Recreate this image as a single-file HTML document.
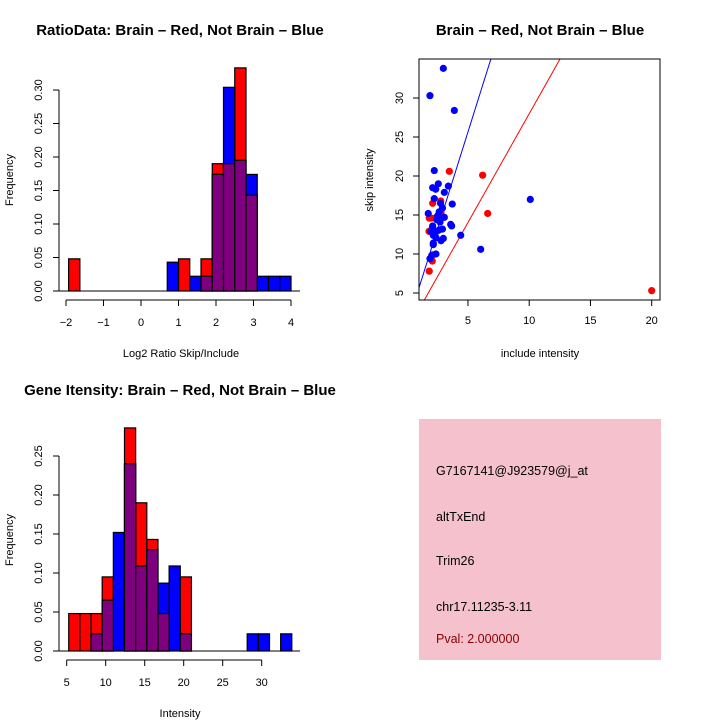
<!DOCTYPE html>
<html><head><meta charset="utf-8">
<style>
html,body{margin:0;padding:0;background:#fff;}
svg{display:block;font-family:"Liberation Sans",sans-serif;}
</style></head>
<body>
<svg id="root" width="720" height="720" viewBox="0 0 720 720">
  <rect x="0" y="0" width="720" height="720" fill="#fff"/>
  <g id="p1"></g>
  <g id="p2"></g>
  <g id="p3"></g>
  <g>
    <rect x="419" y="419" width="242" height="241" fill="#f4c1cc"/>
    <text x="436" y="475" font-size="12.5" fill="#000">G7167141@J923579@j_at</text>
    <text x="436" y="521" font-size="12.5" fill="#000">altTxEnd</text>
    <text x="436" y="565" font-size="12.5" fill="#000">Trim26</text>
    <text x="436" y="611" font-size="12.5" fill="#000">chr17.11235-3.11</text>
    <text x="436" y="643" font-size="12.5" fill="#8b0000">Pval: 2.000000</text>
  </g>
</svg>
<script>
// ---- Plot 1: ratio histogram ----
const ratioBinStarts = [-1.93, 0.7, 1.0, 1.3, 1.6, 1.9, 2.2, 2.5, 2.8, 3.1, 3.4, 3.7];
const ratioBinWidth = 0.3;
const ratioRed  = [0.048, 0, 0.048, 0, 0.048, 0.19, 0.19, 0.333, 0.143, 0, 0, 0];
const ratioBlue = [0, 0.043, 0, 0.022, 0.022, 0.174, 0.304, 0.195, 0.174, 0.022, 0.022, 0.022];
const ratioXTicks = [-2, -1, 0, 1, 2, 3, 4];
const ratioYTicks = ["0.00","0.05","0.10","0.15","0.20","0.25","0.30"];

// ---- Plot 2: scatter ----
const blueInclude = [2.99,1.90,3.89,2.25,2.58,2.12,2.37,3.4,3.07,2.25,10.09,3.72,2.76,2.92,2.65,1.76,3.07,2.45,2.72,3.59,3.67,2.12,2.92,1.96,2.45,2.66,2.17,4.41,2.39,2.99,2.80,2.17,2.17,6.04,2.39,2.04,1.90,2.53];
const blueSkip    = [33.8,30.3,28.4,20.7,19.0,18.5,18.3,18.7,17.9,17.1,17.0,16.4,16.5,15.9,15.4,15.2,14.7,14.4,14.1,13.8,13.6,13.6,13.2,12.9,12.9,13.1,12.4,12.4,12.1,12.0,11.7,11.4,11.2,10.6,10.0,9.8,9.4,14.9];
const redInclude  = [3.48,6.2,6.61,20.0,2.12,2.78,1.84,2.0,1.82,2.1,2.12,2.09,1.84,2.31,2.8];
const redSkip     = [20.6,20.1,15.2,5.3,16.5,16.8,14.6,14.6,12.9,13.4,9.9,9.1,7.8,14.6,15.3];
const blueLine = [0.64, 5.0];   // intercept, slope
const redLine  = [0.08, 2.79];
const scatXTicks = [5, 10, 15, 20];
const scatYTicks = [5, 10, 15, 20, 25, 30];

// ---- Plot 3: gene intensity histogram ----
const geneBinStart = 5.26;
const geneBinWidth = 1.43;
const geneRed  = [0.048,0.048,0.048,0.095,0,0.286,0.19,0.143,0.048,0,0.095,0,0,0,0,0,0,0,0,0];
const geneBlue = [0,0,0.022,0.065,0.152,0.24,0.109,0.13,0.087,0.109,0.022,0,0,0,0,0,0.022,0.022,0,0.022];
const geneXTicks = [5, 10, 15, 20, 25, 30];
const geneYTicks = ["0.00","0.05","0.10","0.15","0.20","0.25"];

const NS = "http://www.w3.org/2000/svg";
function mk(parent, tag, attrs, txt){
  const el = document.createElementNS(NS, tag);
  for (const k in attrs) el.setAttribute(k, attrs[k]);
  if (txt !== undefined) el.textContent = txt;
  parent.appendChild(el);
  return el;
}

function histogram(g, cfg){
  const sx = v => cfg.x0 + (v - cfg.xv0) * cfg.xs;
  const sy = v => cfg.y0 - v * cfg.ys;
  const layers = [["red", cfg.red, "#ff0000"], ["blue", cfg.blue, "#0000ff"]];
  for (const [nm, arr, col] of layers){
    arr.forEach((v, i) => {
      if (v <= 0) return;
      const s = cfg.starts[i];
      const r = mk(g, "rect", {x: sx(s), y: sy(v), width: cfg.bw * cfg.xs, height: v * cfg.ys, fill: col, stroke: "#000", "stroke-width": 1.2});
      
      
    });
  }
  cfg.red.forEach((v, i) => {
    const m = Math.min(v, cfg.blue[i]);
    if (m <= 0) return;
    const s = cfg.starts[i];
    const r = mk(g, "rect", {x: sx(s), y: sy(m), width: cfg.bw * cfg.xs, height: m * cfg.ys, fill: "#7f007f", stroke: "#000", "stroke-width": 1.2});
    
    
  });
  mk(g, "line", {x1: cfg.axX, x2: 300, y1: cfg.y0, y2: cfg.y0, stroke: "#000", "stroke-width": 1});
  const yv = cfg.yTicks.map(Number);
  mk(g, "line", {x1: cfg.axX, x2: cfg.axX, y1: sy(yv[0]), y2: sy(yv[yv.length-1]), stroke: "#000"});
  cfg.yTicks.forEach((t, i) => {
    const y = sy(yv[i]);
    mk(g, "line", {x1: cfg.axX - 6, x2: cfg.axX, y1: y, y2: y, stroke: "#000"});
    const tx = mk(g, "text", {x: 0, y: 0, "font-size": 11, "text-anchor": "middle", transform: `translate(${cfg.axX - 17},${y}) rotate(-90)`}, t);
    
    
  });
  const xt = cfg.xTicks;
  const xa = cfg.y0 + 9;
  mk(g, "line", {x1: sx(xt[0]), x2: sx(xt[xt.length-1]), y1: xa, y2: xa, stroke: "#000"});
  xt.forEach(t => {
    mk(g, "line", {x1: sx(t), x2: sx(t), y1: xa, y2: xa + 6, stroke: "#000"});
    const tx = mk(g, "text", {x: sx(t), y: xa + 26, "font-size": 11, "text-anchor": "middle"}, String(t).replace("-", "\u2212"));
    
    
  });
  const ti = mk(g, "text", {x: cfg.titleX, y: cfg.titleY, "font-size": 15, "font-weight": "bold", "text-anchor": "middle"}, cfg.title);
  
  
  const xl = mk(g, "text", {x: cfg.xlabX, y: cfg.xlabY, "font-size": 11, "text-anchor": "middle"}, cfg.xlab);
  
  
  const yl = mk(g, "text", {x: 0, y: 0, "font-size": 11, "text-anchor": "middle", transform: `translate(13,${cfg.ylabY}) rotate(-90)`}, "Frequency");
  
  
}

histogram(document.getElementById("p1"), {
  starts: ratioBinStarts, bw: ratioBinWidth, red: ratioRed, blue: ratioBlue,
  x0: 66, xv0: -2, xs: 37.5, y0: 291, ys: 670, axX: 59,
  xTicks: ratioXTicks, yTicks: ratioYTicks,
  title: "RatioData: Brain \u2013 Red, Not Brain \u2013 Blue", titleX: 180, titleY: 35,
  xlab: "Log2 Ratio Skip/Include", xlabX: 181, xlabY: 357, ylabY: 180
});

histogram(document.getElementById("p3"), {
  starts: geneRed.map((_, i) => geneBinStart + i * geneBinWidth), bw: geneBinWidth, red: geneRed, blue: geneBlue,
  x0: 66.7, xv0: 5, xs: 7.8, y0: 651, ys: 780, axX: 59,
  xTicks: geneXTicks, yTicks: geneYTicks,
  title: "Gene Itensity: Brain \u2013 Red, Not Brain \u2013 Blue", titleX: 180, titleY: 395,
  xlab: "Intensity", xlabX: 180, xlabY: 717, ylabY: 540
});

(function(){
  const g = document.getElementById("p2");
  const sx = v => 406.7 + v * 12.25;
  const sy = v => 332 - v * 7.8;
  const L = 419, R = 660, T = 59, B = 300;
  const clip = mk(g, "clipPath", {id: "sclip"});
  mk(clip, "rect", {x: L, y: T, width: R - L, height: B - T});
  const lg = mk(g, "g", {"clip-path": "url(#sclip)"});
  [[blueLine, "#0000ff", "fit-line-blue"], [redLine, "#ff0000", "fit-line-red"]].forEach(([ln, col, nm]) => {
    const xa = 0, xb = 25;
    const l = mk(lg, "line", {x1: sx(xa), y1: sy(ln[0] + ln[1] * xa), x2: sx(xb), y2: sy(ln[0] + ln[1] * xb), stroke: col, "stroke-width": 1});
    
    
  });
  redInclude.forEach((v, i) => {
    const c = mk(g, "circle", {cx: sx(v), cy: sy(redSkip[i]), r: 3.6, fill: "#ff0000"});
    
    
  });
  blueInclude.forEach((v, i) => {
    const c = mk(g, "circle", {cx: sx(v), cy: sy(blueSkip[i]), r: 3.6, fill: "#0000ff"});
    
    
  });
  mk(g, "rect", {x: L, y: T, width: R - L, height: B - T, fill: "none", stroke: "#000", "stroke-width": 1});
  scatXTicks.forEach(t => {
    mk(g, "line", {x1: sx(t), x2: sx(t), y1: B, y2: B + 6, stroke: "#000"});
    const tx = mk(g, "text", {x: sx(t), y: B + 24, "font-size": 11, "text-anchor": "middle"}, String(t));
    
    
  });
  scatYTicks.forEach(t => {
    mk(g, "line", {x1: L - 6, x2: L, y1: sy(t), y2: sy(t), stroke: "#000"});
    const tx = mk(g, "text", {x: 0, y: 0, "font-size": 11, "text-anchor": "middle", transform: `translate(403,${sy(t)}) rotate(-90)`}, String(t));
    
    
  });
  const ti = mk(g, "text", {x: 540, y: 35, "font-size": 15, "font-weight": "bold", "text-anchor": "middle"}, "Brain \u2013 Red, Not Brain \u2013 Blue");
  
  
  const xl = mk(g, "text", {x: 540, y: 357, "font-size": 11, "text-anchor": "middle"}, "include intensity");
  
  
  const yl = mk(g, "text", {x: 0, y: 0, "font-size": 11, "text-anchor": "middle", transform: `translate(373,180) rotate(-90)`}, "skip intensity");
  
  
})();
</script>
</body></html>
